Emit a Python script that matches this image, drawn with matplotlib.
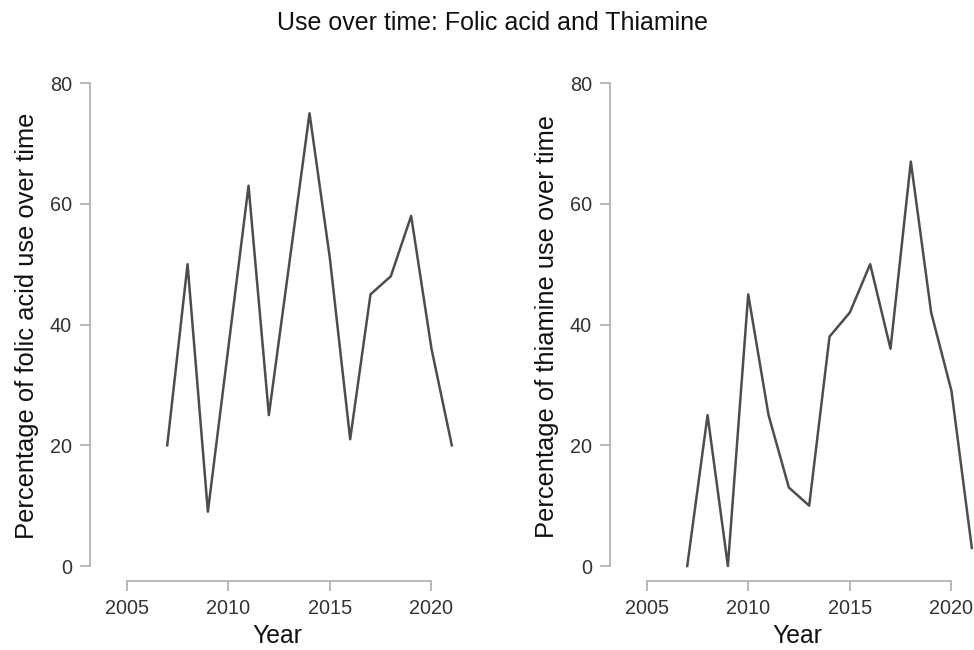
# Use over time: folic acid and thiamine
import matplotlib.pyplot as plt

plt.rcParams['font.family'] = ['Liberation Sans', 'DejaVu Sans']

# years and percentages
years = [2007, 2008, 2009, 2010, 2011, 2012, 2013, 2014, 2015, 2016, 2017, 2018, 2019, 2020, 2021]
folic_acid = [20, 50, 9, 36, 63, 25, 50, 75, 51, 21, 45, 48, 58, 36, 20]
thiamine = [0, 25, 0, 45, 25, 13, 10, 38, 42, 50, 36, 67, 42, 29, 3]

x_ticks = [2005, 2010, 2015, 2020]
y_ticks = [0, 20, 40, 60, 80]

W, H = 974, 650
fig = plt.figure(figsize=(W / 100, H / 100), dpi=100)

axis_col = '#b3b3b3'
text_col = '#333333'
line_col = '#4d4d4d'

def make_panel(left_px, y, ylabel):
    # axes box in pixels: left edge is the y axis, bottom edge is the x axis
    ax = fig.add_axes([left_px / W, (H - 581) / H, 374 / W, 510 / H])
    ax.plot(years, y, color=line_col, linewidth=1.8, clip_on=False)
    ax.set_xlim(2003.2, 2021.6)
    ax.set_ylim(-2.48, 82)
    ax.set_xticks(x_ticks)
    ax.set_yticks(y_ticks)
    for s in ['top', 'right']:
        ax.spines[s].set_visible(False)
    ax.spines['left'].set_bounds(0, 80)
    ax.spines['bottom'].set_bounds(2005, 2020)
    for s in ['left', 'bottom']:
        ax.spines[s].set_color(axis_col)
        ax.spines[s].set_linewidth(1.3)
    ax.tick_params(colors=axis_col, labelcolor=text_col, length=7, width=1.3,
                   labelsize=14.3, pad=6)
    ax.set_xlabel('Year', fontsize=17.8, color='#111111', labelpad=4)
    ax.set_ylabel(ylabel, fontsize=18.4, color='#111111', labelpad=8)
    ax.patch.set_visible(False)
    return ax

make_panel(90, folic_acid, 'Percentage of folic acid use over time')
make_panel(610, thiamine, 'Percentage of thiamine use over time')

fig.suptitle('Use over time: Folic acid and Thiamine', x=492 / W, y=1 - 11 / H,
             fontsize=18, va='top', color='#111111')

plt.savefig('out.png', dpi=100)
